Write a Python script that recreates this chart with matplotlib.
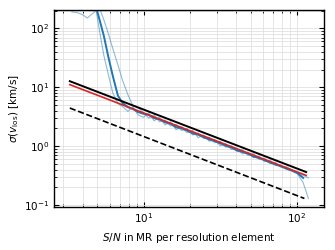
import numpy as np
import matplotlib
matplotlib.use("Agg")
import matplotlib.pyplot as plt

# S/N grid shared by the measured curves
sn = [3.4, 3.7, 4.0, 4.3, 4.6, 4.9, 5.2, 5.5, 5.9, 6.3, 6.8, 7.3, 7.9, 8.5, 9.2,
      10.0, 10.8, 11.7, 12.7, 13.8, 15.0, 16.3, 17.7, 19.2, 20.9, 22.7, 24.7,
      26.8, 29.1, 31.6, 34.4, 37.4, 40.6, 44.1, 47.9, 52.1, 56.6, 61.5, 66.8,
      72.6, 78.9, 85.7, 93.2, 101, 110, 119]

# mean curve
sig_mean = [300, 300, 300, 300, 300, 230, 130, 75, 32, 15.5, 7.2, 5.4, 4.6, 4.3,
            3.8, 3.55, 3.4, 3.0, 2.85, 2.55, 2.4, 2.1, 2.0, 1.85, 1.65, 1.57,
            1.42, 1.3, 1.22, 1.12, 1.02, 0.95, 0.85, 0.80, 0.75, 0.67, 0.63,
            0.58, 0.53, 0.49, 0.455, 0.415, 0.385, 0.35, 0.29, np.nan]

# individual realisations
sig_a = [190, 185, 170, 150, 175, 200, 80, 35, 16, 8, 5.3, 4.7, 3.9, 4.7, 3.4,
         3.1, 3.7, 2.7, 3.1, 2.3, 2.6, 1.9, 2.15, 1.7, 1.85, 1.4, 1.55, 1.22,
         1.3, 1.02, 1.1, 0.88, 0.93, 0.74, 0.8, 0.64, 0.68, 0.55, 0.58, 0.47,
         0.48, 0.41, 0.38, 0.34, 0.24, 0.13]
sig_b = [300, 300, 300, 300, 300, 300, 210, 140, 80, 45, 24, 13, 7.5, 4.9, 4.5,
         3.7, 3.0, 3.4, 2.6, 2.8, 2.2, 2.35, 1.85, 2.0, 1.55, 1.68, 1.35, 1.42,
         1.15, 1.22, 0.96, 1.02, 0.82, 0.87, 0.7, 0.75, 0.6, 0.63, 0.51, 0.53,
         0.44, 0.45, 0.39, 0.36, 0.32, 0.29]

# power-law reference lines (end points)
fit_x = [3.3, 115]
fit_black = [12.7, 0.365]
fit_red = [11.1, 0.32]
dash_x = [3.3, 112]
dash_y = [4.45, 0.13]

fig = plt.figure(figsize=(3.35, 2.5), dpi=100)
ax = fig.add_axes([0.161, 0.173, 0.807, 0.787])

ax.plot(sn, sig_a, color='C0', alpha=0.5, lw=0.8)
ax.plot(sn, sig_b, color='C0', alpha=0.5, lw=0.8)
ax.plot(sn, sig_mean, color='C0', lw=1.4)
ax.plot(fit_x, fit_red, color='C3', lw=1.2)
ax.plot(fit_x, fit_black, color='k', lw=1.4)
ax.plot(dash_x, dash_y, color='k', lw=1.2, ls='--')

ax.set_xscale('log')
ax.set_yscale('log')
ax.set_xlim(2.6, 151)
ax.set_ylim(0.094, 205)
ax.grid(True, which='both', color='0.88', lw=0.6)
ax.tick_params(which='both', direction='in', top=True, right=True, labelsize=7.5)
ax.tick_params(which='major', length=3.5)
ax.tick_params(which='minor', length=2)
for s in ax.spines.values():
    s.set_linewidth(1.0)

ax.set_xlabel(r'$S/N$ in MR per resolution element', fontsize=7.5)
ax.set_ylabel(r'$\sigma(v_{\rm los})$ [km/s]', fontsize=7.5, labelpad=2)

fig.savefig('out.png', dpi=100)
